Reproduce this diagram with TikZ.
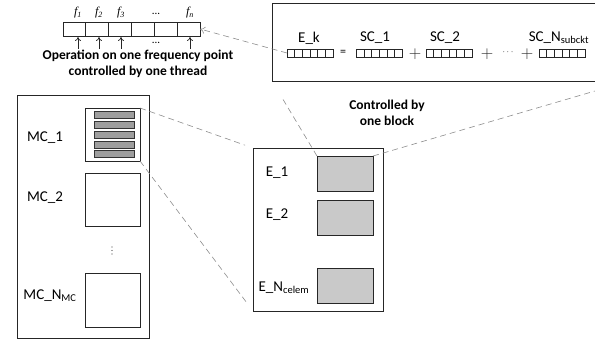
\documentclass[tikz,border=0pt]{standalone}
\usepackage{fontspec}
\setmainfont{Carlito}
\newfontfamily\timesit{Liberation Serif}
\usetikzlibrary{arrows.meta,calc}

\tikzset{
  frame/.style={draw=black!85, line width=0.8pt, inner sep=0pt, outer sep=0pt},
  sixcell/.style={frame, path picture={
      \foreach \i in {1,...,5}
        \draw[black!85, line width=0.8pt]
          ($(path picture bounding box.south west)!\i/6!(path picture bounding box.south east)$) --
          ($(path picture bounding box.north west)!\i/6!(path picture bounding box.north east)$);}},
  strip/.style={sixcell, minimum width=46pt, minimum height=8pt, line width=0.7pt},
  slot/.style={frame, anchor=north west, fill=black!21},
  bar/.style={draw=black!80, line width=0.7pt, fill=black!38, inner sep=0pt, outer sep=0pt,
    minimum width=40pt, minimum height=6.4pt},
  guide/.style={draw=black!45, line width=0.6pt, dash pattern=on 6pt off 4pt},
  lab/.style={font=\fontsize{15}{17}\selectfont, inner sep=0pt},
  op/.style={font=\fontsize{16}{18}\selectfont, inner sep=0pt, black!85},
  note/.style={font=\fontsize{13.5}{15.5}\selectfont\bfseries, align=center, inner sep=0pt},
  freq/.style={font=\fontsize{12}{14}\selectfont\timesit\itshape, inner sep=0pt},
  up/.style={-{To[length=4pt,width=6pt]}, line width=0.7pt, black!85},
}

\begin{document}
\begin{tikzpicture}[x=1pt,y=-1pt]
\useasboundingbox (0,0) rectangle (595,341);

% frequency array handled by threads
\node[sixcell, anchor=north west, minimum width=137pt, minimum height=14pt] (fa) at (63,22) {};
\node[freq] (f1) at (78,13) {f\textsubscript{1}};
\node[freq] (f2) at (99,13) {f\textsubscript{2}};
\node[freq] (f3) at (121,13) {f\textsubscript{3}};
\node[font=\fontsize{11}{12}\selectfont, inner sep=0pt] (fd) at (156,14) {...};
\node[freq] (fn) at (190,13) {f\textsubscript{\itshape n}};
\foreach \x/\n in {78/a1,99/a2,121/a3,190/an}
  \draw[up] (\x,49) coordinate (\n) -- (\x,37);
\node[font=\fontsize{11}{12}\selectfont, inner sep=0pt] (ad) at (156,43) {...};
\node[note] (thread) at (138,64) {Operation on one frequency point\\controlled by one thread};

% summation over sub-circuits (frame runs past the right edge)
\node[frame, anchor=north west, minimum width=330pt, minimum height=78pt] (sum) at (272,3) {};
\node[strip] (ek) at (310,53) {};
\node[strip] (sc1) at (379.5,53) {};
\node[strip] (sc2) at (449,53) {};
\node[strip] (scn) at (562,53) {};
\node[lab] (ekl) at (309,38) {E\_k};
\node[lab] (sc1l) at (375,38) {SC\_1};
\node[lab] (sc2l) at (445,38) {SC\_2};
\node[lab] (scnl) at (559,38) {SC\_N\textsubscript{subckt}};
\node[font=\fontsize{12}{14}\selectfont, inner sep=0pt] (eq) at (343,53) {=};
\node[op] (p1) at (415,54) {$+$};
\node[op] (p2) at (487,54) {$+$};
\node[font=\fontsize{9}{10}\selectfont, inner sep=0pt] (sd) at (508,52) {$\cdots$};
\node[op] (p3) at (527,54) {$+$};

% memory cells
\node[frame, anchor=north west, minimum width=132pt, minimum height=243pt] (mc) at (17,95) {};
\node[frame, anchor=north west, minimum width=55pt, minimum height=53pt] (mc1) at (85,108) {};
\foreach \y/\n in {115/b1,125/b2,135/b3,145/b4,154/b5}
  \node[bar] (\n) at (114,\y) {};
\node[frame, anchor=north west, minimum width=55pt, minimum height=53pt] (mc2) at (85,173) {};
\node[frame, anchor=north west, minimum width=55pt, minimum height=54pt] (mcn) at (85,273) {};
\node[lab] (mc1l) at (45,138) {MC\_1};
\node[lab] (mc2l) at (45,198) {MC\_2};
\node[lab] (mcnl) at (50,296) {MC\_N\textsubscript{MC}};
\foreach \y in {247,250.5,254}
  \fill[black!75] (112,\y) circle (0.55pt);

% circuit elements
\node[frame, anchor=north west, minimum width=130pt, minimum height=163pt] (el) at (253,148) {};
\node[slot, minimum width=56pt, minimum height=35pt] (e1) at (317,156) {};
\node[slot, minimum width=56pt, minimum height=35pt] (e2) at (317,200) {};
\node[slot, minimum width=56pt, minimum height=35pt] (en) at (317,268) {};
\node[lab] (e1l) at (277,173) {E\_1};
\node[lab] (e2l) at (277,215) {E\_2};
\node[lab] (enl) at (284,288) {E\_N\textsubscript{celem}};
\node[note] (block) at (387,113) {Controlled by\\one block};

% zoom guides
\coordinate (edge) at (595,91);
\draw[guide] (mc1.north east) -- ($(el.north west)!0.07!(mc1.north east)$);
\draw[guide] (mc1.south east) -- ($(el.south west)!0.06!(mc1.south east)$);
\draw[guide] (e1.north west) -- ($(sum.south west)!0.2!(e1.north west)$);
\draw[guide] (e1.north east) -- (edge);
\draw[guide, -{To[length=5pt,width=7pt]}] (ek.west) -- (fa.east);
\end{tikzpicture}
\end{document}
